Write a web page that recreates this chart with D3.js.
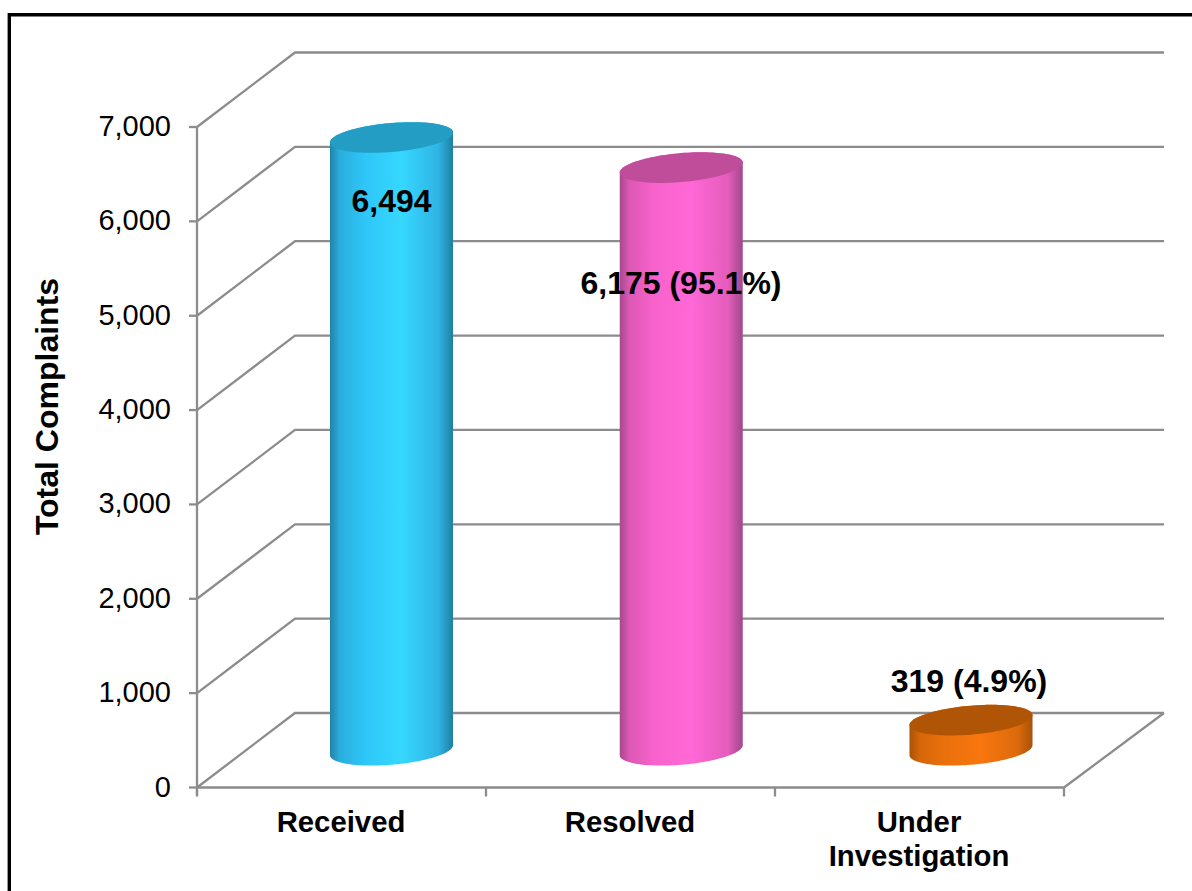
<!DOCTYPE html>
<html><head><meta charset="utf-8">
<script src="https://cdn.jsdelivr.net/npm/d3@7"></script>
<style>html,body{margin:0;padding:0;background:#fff}svg{display:block}text{font-family:"Liberation Sans",Arial,sans-serif;fill:#000}</style>
</head><body><div id="c"></div>
<script>
const categories = [["Received"], ["Resolved"], ["Under", "Investigation"]];
const values = [6494, 6175, 319];
const valueLabels = ["6,494", "6,175 (95.1%)", "319 (4.9%)"];
const yTicks = [0, 1000, 2000, 3000, 4000, 5000, 6000, 7000];
const sideStops = [
  [["0%","#1f83a8"],["8%","#2aaede"],["28%","#2ec6f8"],["58%","#36d8ff"],["88%","#2fb4e4"],["100%","#1f7fa3"]],
  [["0%","#a8488e"],["8%","#dc58b4"],["28%","#f862cc"],["58%","#ff68d6"],["88%","#e45cbc"],["100%","#a0488c"]],
  [["0%","#a85206"],["8%","#d4660a"],["28%","#ea700c"],["58%","#f8760e"],["88%","#dc6a0c"],["100%","#a85206"]]
];
const topColors = ["#249dc4", "#c04d9a", "#b05506"];

const W = 1192, H = 891;
const fx0 = 197, fx1 = 1064, fy0 = 787.5, fy7 = 127, dx = 98, dy = 74.5;
const rx = 61.5, ry = 14.5, skew = 5;

const svg = d3.select("#c").append("svg").attr("width", W).attr("height", H);
const defs = svg.append("defs");
const x = d3.scaleBand().domain(d3.range(values.length)).range([fx0, fx1]);
const cylX = d3.scalePoint().domain(d3.range(values.length)).range([391.5, 971]);
const y = d3.scaleLinear().domain([0, 7000]).range([fy0, fy7]);
const grey = "#8c8c8c";

// frame
svg.append("path").attr("d", `M9.3,${H}V14.7H${W}`).attr("fill","none").attr("stroke","#000").attr("stroke-width",3.4);

// gridlines (side wall + back wall)
svg.append("g").selectAll("path").data(yTicks).join("path")
  .attr("fill","none").attr("stroke",grey).attr("stroke-width",2.3)
  .attr("d", d => `M${fx0},${y(d)}L${fx0+dx},${y(d)-dy}H${fx1+dx+2}`);
// floor
svg.append("path").attr("fill","none").attr("stroke",grey).attr("stroke-width",2.3)
  .attr("d", `M${fx0},${fy0}H${fx1}L${fx1+dx+2},${fy0-dy}`);
// y axis + ticks
svg.append("line").attr("x1",fx0).attr("x2",fx0).attr("y1",fy7).attr("y2",fy0+8).attr("stroke",grey).attr("stroke-width",2.3);
svg.append("g").selectAll("line").data(yTicks).join("line")
  .attr("x1",fx0-8).attr("x2",fx0).attr("y1",d=>y(d)).attr("y2",d=>y(d)).attr("stroke",grey).attr("stroke-width",2.3);
svg.append("g").selectAll("line").data(d3.range(values.length+1)).join("line")
  .attr("x1",d=>fx0+d*x.step()).attr("x2",d=>fx0+d*x.step()).attr("y1",fy0).attr("y2",fy0+9).attr("stroke",grey).attr("stroke-width",2.3);

// tick labels
const fmt = d3.format(",");
svg.append("g").selectAll("text").data(yTicks).join("text")
  .attr("x",fx0-26).attr("y",d=>y(d)+9).attr("text-anchor","end").attr("font-size",29).text(fmt);
svg.append("text").attr("transform","translate(58,406.5) rotate(-90)").attr("text-anchor","middle")
  .attr("font-size",32).attr("font-weight","bold").text("Total Complaints");

// cylinders
const ts = d3.range(0, 2*Math.PI, Math.PI/60);
const ell = (cx, cy, t) => [cx + rx*Math.cos(t), cy - skew*Math.cos(t) - ry*Math.sin(t)];
const line = d3.line();
values.forEach((v,i) => {
  const cx = cylX(i);
  const baseY = y(0) - dy/2;
  const topY = baseY - (y(0) - y(v));
  const id = "side"+i;
  const g = defs.append("linearGradient").attr("id",id).attr("x1","0%").attr("x2","100%").attr("y1","0%").attr("y2","0%");
  sideStops[i].forEach(s => g.append("stop").attr("offset",s[0]).attr("stop-color",s[1]));
  const topEdge = d3.range(0, Math.PI+0.001, Math.PI/60).map(t => ell(cx, topY, t));          // right->left over top
  const bottomEdge = d3.range(Math.PI, 2*Math.PI+0.001, Math.PI/60).map(t => ell(cx, baseY, t)); // left->right under bottom
  svg.append("path").attr("d", line(topEdge.concat(bottomEdge))+"Z").attr("fill",`url(#${id})`);
  svg.append("path").attr("d", line(ts.map(t => ell(cx, topY, t)))+"Z").attr("fill",topColors[i]);
});

// value labels
const labelPos = [[391.5,212],[681,294],[969,692]];
svg.append("g").selectAll("text").data(valueLabels).join("text")
  .attr("x",(d,i)=>labelPos[i][0]).attr("y",(d,i)=>labelPos[i][1])
  .attr("text-anchor","middle").attr("font-size",32).attr("font-weight","bold").text(d=>d);

// category labels
const catG = svg.append("g").selectAll("text").data(categories).join("text")
  .attr("text-anchor","middle").attr("font-size",29.3).attr("font-weight","bold");
catG.selectAll("tspan").data((d,i)=>d.map((s,j)=>({s,j,i}))).join("tspan")
  .attr("x",d=>x(d.i)+x.bandwidth()/2-0.5).attr("y",d=>832+d.j*34).text(d=>d.s);
</script></body></html>
